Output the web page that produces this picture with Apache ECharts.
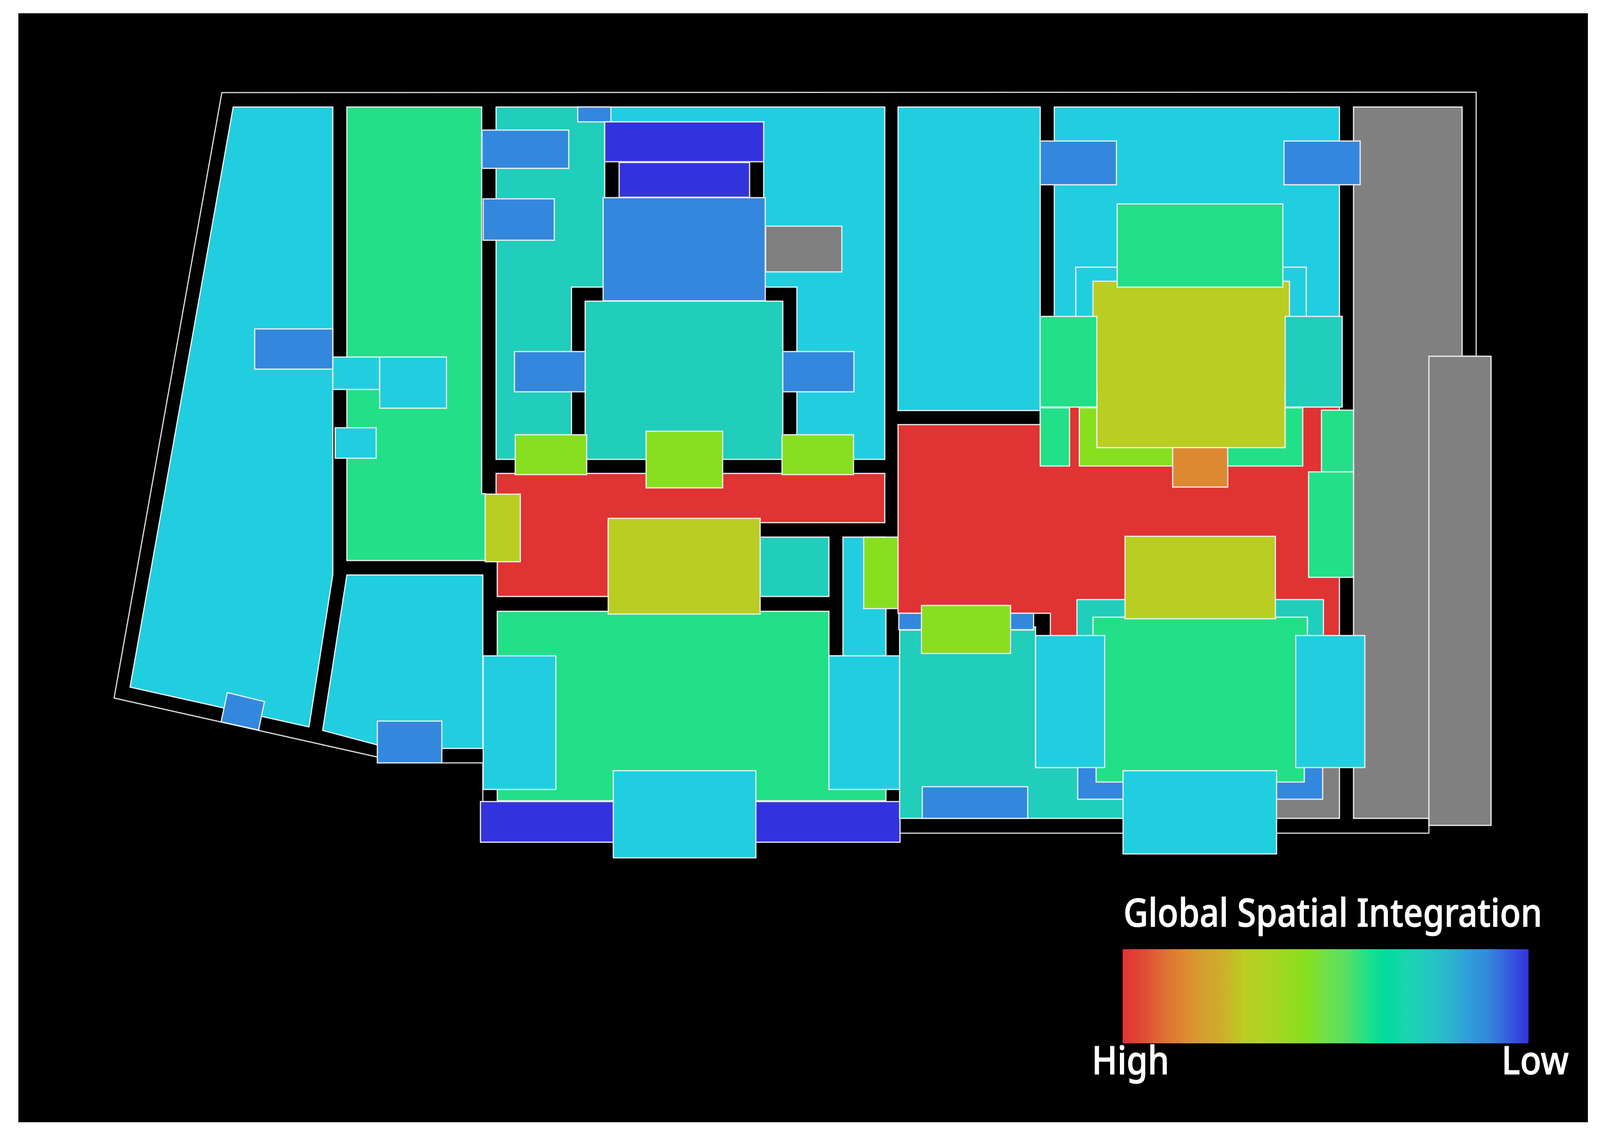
<!DOCTYPE html>
<html>
<head>
<meta charset="utf-8">
<title>Global Spatial Integration</title>
<style>html,body{margin:0;padding:0;background:#fff;width:100%;height:100%}#chart{width:4114px;height:2921px}</style>
<script src="https://cdn.jsdelivr.net/npm/echarts@6/dist/echarts.min.js"></script>
</head>
<body>
<div id="chart"></div>
<script>
// Integration levels: 0 = high, 1 = low, NO_DATA = not analysed (grey)
const RED = 0, ORANGE = 0.15, OLIVE = 0.30, LIME = 0.45, GREEN = 0.60, TEAL = 0.70, CYAN = 0.75, BLUE = 0.90, INDIGO = 1, NO_DATA = -1;

// Colours the rooms take at each level, from high to low
const rampColors = ['#E03333','#E04B34','#DF6E34','#DD8833','#D5A02F','#CCB02A','#BACD22','#B0D322','#9CD920','#88DF1F','#70E045','#5ADF60','#22E088','#00DB9C','#20CEBB','#21CEE0','#2AB8D0','#309ED8','#3388DD','#335FDD','#3333DD'];
// Colours of the printed legend bar, from high to low
const legendRamp = ['#E03333','#E04B34','#DF6E34','#DD8833','#D5A02F','#CCB02A','#BACD22','#B0D322','#9CD920','#88DF1F','#70E045','#5ADF60','#22E088','#00DB9C','#1AD5B0','#22C8C0','#2AB8CC','#309ED8','#3388DD','#335FDD','#3333DD'];
const legendTitle = 'Global Spatial Integration';
const legendHigh = 'High';
const legendLow = 'Low';

// Building outline (plan coordinates)
const wallX = [3779,3779,568,292,966,1131,1236,1236,3658,3658,3779];
const wallY = [912,236,237,1787,1938,1953,1953,2133,2133,912,912];

// Rooms in drawing order: rectangles are [x0,y0,x1,y1], other rooms are x,y lists
const roomOutlines = [
  [597,274,852,274,852,1471,791,1861,333,1759,0],
  [652,842,852,945],
  [582,1773,677,1796,662,1869,566,1848,0],
  [888,274,1233,274,1233,1264,1243,1264,1243,1435,888,1435,0],
  [852,914,972,997],
  [972,914,1143,1045],
  [858,1095,963,1173],
  [888,1472,1236,1472,1236,1916,1000,1916,826,1870,0],
  [966,1846,1131,1953],
  [1270,274,1548,274,1548,735,1463,735,1463,1176,1270,1176,0],
  [1548,274,2265,274,2265,1176,2040,1176,2040,735,1955,735,1955,312,1548,312,0],
  [1479,274,1564,312],
  [1234,333,1456,431],
  [1237,509,1419,615],
  [1548,312,1955,414],
  [1585,416,1919,505],
  [1544,506,1959,770],
  [1960,579,2155,696],
  [1498,771,2004,1176],
  [1317,900,1498,1003],
  [2004,900,2186,1003],
  [1270,1212,2265,1212,2265,1338,1557,1338,1557,1527,1273,1527,1273,1438,1270,1438,0],
  [1946,1375,2122,1527],
  [1273,1565,2122,1565,2122,1679,2268,1679,2268,2050,1273,2050,0],
  [1242,1265,1332,1438],
  [1557,1327,1946,1572],
  [1319,1113,1502,1215],
  [1654,1104,1850,1249],
  [2002,1113,2185,1215],
  [2158,1375,2268,1679],
  [2211,1375,2300,1558],
  [1230,2052,2304,2156],
  [1237,1679,1423,2021],
  [2122,1679,2309,2021],
  [1570,1973,1935,2196],
  [2299,274,2663,1051],
  [2699,274,3429,274,3429,1042,2699,1042,0],
  [2754,684,3344,830],
  [3465,274,3743,2095],
  [3000,1900,3429,2095],
  [2299,1087,2663,1087,2663,1042,3429,1042,3429,1640,2689,1640,2689,1570,2299,1570,0],
  [2301,1570,2646,1612],
  [2303,1613,2646,1613,2646,1605,2651,1605,2651,1965,2900,1965,2900,2095,2303,2095,0],
  [2757,1535,3388,1650],
  [3658,912,3817,2113],
  [2759,1900,3386,2046],
  [2798,1580,3347,1580,3347,1700,3339,1700,3339,2002,2806,2002,2806,1700,2798,1700,0],
  [2880,1373,3265,1584],
  [2359,1550,2587,1673],
  [2361,2014,2631,2095],
  [2651,1627,2828,1965],
  [3317,1627,3494,1965],
  [2875,1973,3268,2186],
  [3383,1050,3465,1208],
  [3350,1208,3465,1478],
  [2798,720,3301,720,3301,1000,3290,1000,3290,1146,2808,1146,2808,1000,2798,1000,0],
  [2860,522,3284,735],
  [2663,361,2858,473],
  [3287,361,3482,473],
  [2663,810,2808,1042],
  [3290,810,3436,1042],
  [2663,1044,2738,1193],
  [2763,1044,2808,1044,2808,1146,3072,1146,3072,1193,2763,1193,0],
  [3072,1146,3290,1146,3290,1044,3335,1044,3335,1193,3072,1193,0],
  [3002,1146,3143,1247]
];
const roomLevels = [
  CYAN,BLUE,BLUE,GREEN,CYAN,CYAN,CYAN,CYAN,BLUE,
  TEAL,CYAN,BLUE,BLUE,BLUE,INDIGO,INDIGO,BLUE,NO_DATA,TEAL,BLUE,BLUE,
  RED,TEAL,GREEN,OLIVE,OLIVE,LIME,LIME,LIME,CYAN,LIME,
  INDIGO,CYAN,CYAN,CYAN,
  CYAN,CYAN,CYAN,NO_DATA,NO_DATA,RED,BLUE,TEAL,TEAL,NO_DATA,BLUE,GREEN,OLIVE,LIME,BLUE,
  CYAN,CYAN,CYAN,GREEN,GREEN,OLIVE,GREEN,BLUE,BLUE,GREEN,TEAL,GREEN,LIME,GREEN,ORANGE
];

const EDGE = '#F0F0F0';
const GREY = '#808080';
const chart = echarts.init(document.getElementById('chart'), null, {width: 4114, height: 2921});

function points(list) {
  if (list.length === 4) {
    const [a, b, c, d] = list;
    return [[a, b], [c, b], [c, d], [a, d]];
  }
  const out = [];
  for (let i = 0; i + 1 < list.length; i += 2) out.push([list[i], list[i + 1]]);
  return out;
}

function legendText(text, x, y, fontSize, scaleX) {
  return {
    type: 'text', x: x, y: y, scaleX: scaleX, z: 10,
    style: {text: text, fill: '#fff', stroke: '#fff', lineWidth: 1.5, font: '500 ' + fontSize + 'px "Noto Sans"', textAlign: 'left', verticalAlign: 'middle'}
  };
}

const rampStops = legendRamp.map((color, i) => ({offset: i / (legendRamp.length - 1), color: color}));

chart.setOption({
  animation: false,
  backgroundColor: '#ffffff',
  grid: {left: 0, right: 0, top: 0, bottom: 0, containLabel: false},
  xAxis: {type: 'value', min: 0, max: 4114, show: false},
  yAxis: {type: 'value', min: 0, max: 2921, inverse: true, show: false},
  tooltip: {show: false},
  visualMap: {
    type: 'continuous', show: false, seriesIndex: 1, dimension: 0, min: 0, max: 1,
    inRange: {color: rampColors}
  },
  graphic: {elements: [
    {type: 'rect', z: -5, shape: {x: 47, y: 34, width: 4018, height: 2839}, style: {fill: '#000'}},
    {type: 'rect', z: 5, shape: {x: 2874, y: 2430, width: 1039, height: 241},
      style: {fill: new echarts.graphic.LinearGradient(0, 0, 1, 0, rampStops)}},
    legendText(legendTitle, 2876, 2344, 100, 0.875),
    legendText(legendHigh, 2795, 2722, 100, 0.875),
    legendText(legendLow, 3844, 2722, 100, 0.89)
  ]},
  series: [
    {type: 'line', z: 2, silent: true, symbol: 'none', data: wallX.map((x, i) => [x, wallY[i]]),
      lineStyle: {color: '#DDDDDD', width: 3}},
    {type: 'custom', z: 3, silent: true, clip: false, coordinateSystem: 'cartesian2d',
      data: roomLevels.map((level, i) => [level, i]),
      renderItem: function (params, api) {
        const pts = points(roomOutlines[api.value(1)]).map(p => api.coord(p));
        return {type: 'polygon', shape: {points: pts},
          style: {fill: api.value(0) < 0 ? GREY : api.visual('color'), stroke: EDGE, lineWidth: 3, lineJoin: 'miter'}};
      }}
  ]
});
</script>
</body>
</html>
